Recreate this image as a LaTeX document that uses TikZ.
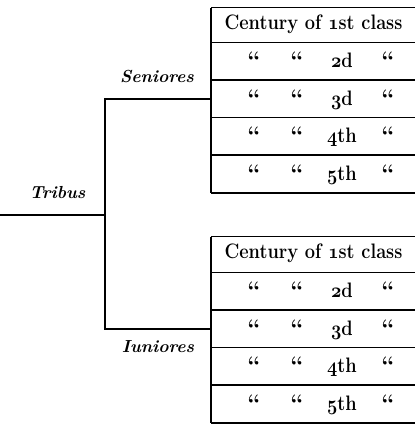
\documentclass[tikz,border=0pt]{standalone}
\usetikzlibrary{positioning}
\newcommand{\sq}[1]{\scalebox{0.87}[1]{#1}}
\newcommand{\osn}[1]{{\fontencoding{OML}\fontfamily{cmm}\fontseries{b}\fontshape{it}\selectfont #1}}
\begin{document}
\begin{tikzpicture}[x=1bp,y=-1bp,
  rowbox/.style={anchor=north west,minimum width=204bp,inner sep=0pt,outer sep=0pt},
  celltext/.style={anchor=base,inner sep=0pt,font=\fontsize{21}{24}\selectfont\bfseries},
  dittotext/.style={anchor=base,inner sep=0pt,font=\fontsize{24}{26}\selectfont\bfseries},
  lbl/.style={anchor=base,inner sep=0pt,font=\fontsize{17.5}{20}\selectfont\bfseries\itshape},
  tabline/.style={line width=1.6bp},
  branch/.style={line width=2.3bp}]
\useasboundingbox (0,0) rectangle (415,425);
% upper table rows
\node[rowbox,minimum height=35bp]   (s1) at (211,7.5) {};
\node[rowbox,minimum height=37.5bp] (s2) at (211,42.5) {};
\node[rowbox,minimum height=37.5bp] (s3) at (211,80) {};
\node[rowbox,minimum height=37.5bp] (s4) at (211,117.5) {};
\node[rowbox,minimum height=38bp]   (s5) at (211,155) {};
% lower table rows
\node[rowbox,minimum height=36bp]   (j1) at (211,236.5) {};
\node[rowbox,minimum height=37.5bp] (j2) at (211,272.5) {};
\node[rowbox,minimum height=37.5bp] (j3) at (211,310) {};
\node[rowbox,minimum height=37.5bp] (j4) at (211,347.5) {};
\node[rowbox,minimum height=38bp]   (j5) at (211,385) {};
% table lines
\foreach \t in {s,j}{
  \draw[tabline] (\t1.north west) -- (\t1.north east);
  \foreach \r in {1,...,5}{\draw[tabline] (\t\r.south west) -- (\t\r.south east);}
  \draw[tabline] (\t1.north west) -- (\t5.south west);
}
% header texts
\node[celltext] (s1t) at (313.5,29) {\sq{Century of \osn{1}st class}};
\node[celltext] (j1t) at (313.5,258) {\sq{Century of \osn{1}st class}};
% ditto rows
\foreach \t in {s,j}{
  \foreach \r/\ord in {2/{\osn{2}d},3/{\osn{3}d},4/{\osn{4}th},5/{\osn{5}th}}{
    \path (\t\r.north west) ++(0,25) coordinate (\t\r b);
    \node[dittotext] (\t\r a) at ([xshift=43bp,yshift=-1bp]\t\r b) {``};
    \node[dittotext] (\t\r c) at ([xshift=86bp,yshift=-1bp]\t\r b) {``};
    \node[celltext] (\t\r d) at ([xshift=131bp]\t\r b) {\sq{\ord}};
    \node[dittotext] (\t\r e) at ([xshift=177bp,yshift=-1bp]\t\r b) {``};
  }
}
% branches
\coordinate (tribusend) at (0,215);
\coordinate (fork) at (105,215);
\draw[branch] (tribusend) -- (fork);
\draw[branch] (s3.west) -| (fork) |- (j3.west);
% labels
\node[lbl] (tribus) at (57.5,198) {Tribus};
\node[lbl] (sen) at (157,82) {Seniores};
\node[lbl] (iun) at (158,352) {Iuniores};
\end{tikzpicture}
\end{document}
